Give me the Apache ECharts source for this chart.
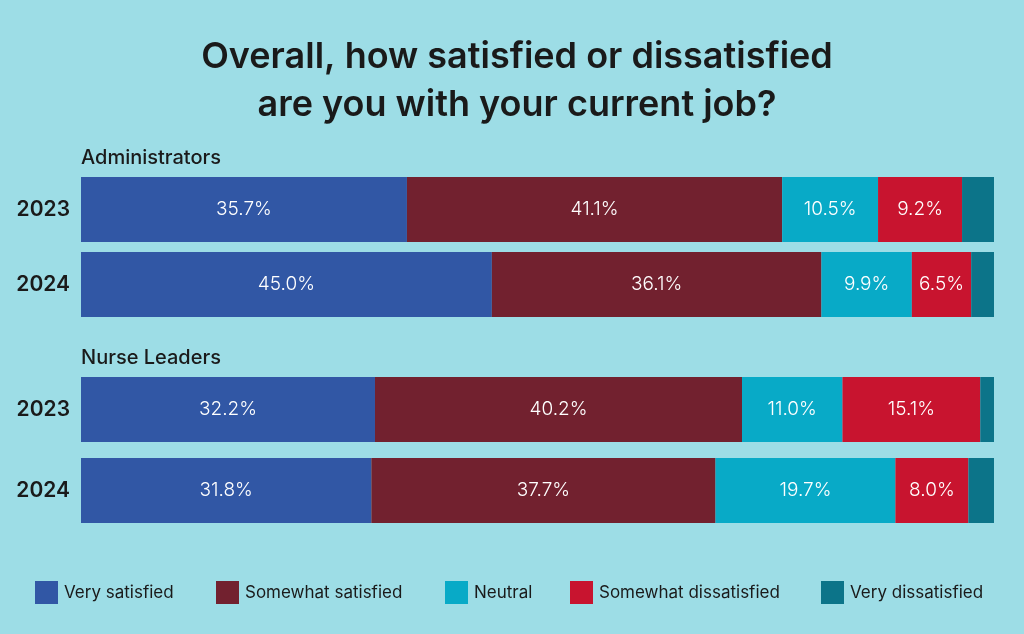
<!DOCTYPE html>
<html><head><meta charset="utf-8">
<script src="https://cdn.jsdelivr.net/npm/echarts@6/dist/echarts.min.js"></script>
<style>html,body{margin:0;padding:0;background:#9ddde6;}#c{width:1024px;height:634px;}</style>
</head><body><div id="c"></div>
<script>
const years = ['2023', '2024'];
const groups = ['Administrators', 'Nurse Leaders'];
const seriesNames = ['Very satisfied', 'Somewhat satisfied', 'Neutral', 'Somewhat dissatisfied', 'Very dissatisfied'];
const colors = ['#3157a5', '#72212f', '#08aac7', '#c8142f', '#0c7489'];
// Administrators [2023, 2024]
const adminVerySatisfied = [35.7, 45.0];
const adminSomewhatSatisfied = [41.1, 36.1];
const adminNeutral = [10.5, 9.9];
const adminSomewhatDissatisfied = [9.2, 6.5];
const adminVeryDissatisfied = [3.5, 2.5];
// Nurse Leaders [2023, 2024]
const nurseVerySatisfied = [32.2, 31.8];
const nurseSomewhatSatisfied = [40.2, 37.7];
const nurseNeutral = [11.0, 19.7];
const nurseSomewhatDissatisfied = [15.1, 8.0];
const nurseVeryDissatisfied = [1.5, 2.8];

const groupData = [
  [adminVerySatisfied, adminSomewhatSatisfied, adminNeutral, adminSomewhatDissatisfied, adminVeryDissatisfied],
  [nurseVerySatisfied, nurseSomewhatSatisfied, nurseNeutral, nurseSomewhatDissatisfied, nurseVeryDissatisfied]
];

const FONT = 'Inter, "Noto Sans", sans-serif';
const chart = echarts.init(document.getElementById('c'));

const grids = [
  {left: 81, right: 30, top: 172, height: 150},
  {left: 81, right: 30, top: 369, height: 162}
];
const xAxes = grids.map((g, i) => ({gridIndex: i, type: 'value', min: 0, max: 100, show: false}));
const yAxes = grids.map((g, i) => ({
  gridIndex: i, type: 'category', data: years, inverse: true,
  axisLine: {show: false}, axisTick: {show: false},
  axisLabel: {color: '#1a1a1a', fontSize: 21, fontWeight: 600, fontFamily: FONT, margin: 11}
}));

const series = [];
groupData.forEach((arrs, gi) => {
  arrs.forEach((vals, si) => {
    series.push({
      name: seriesNames[si], type: 'bar', stack: 'g' + gi,
      xAxisIndex: gi, yAxisIndex: gi, barWidth: 65,
      itemStyle: {color: colors[si]},
      label: {
        show: si < 4, position: 'inside', color: '#ffffff',
        fontSize: 19, fontWeight: 300, fontFamily: FONT,
        formatter: p => p.value.toFixed(1) + '%'
      },
      emphasis: {disabled: true},
      data: vals
    });
  });
});

const legendLefts = [35, 216, 445, 570, 821];
const legends = seriesNames.map((n, i) => ({
  data: [n], left: legendLefts[i], top: 581, padding: 0, itemWidth: 23, itemHeight: 23,
  itemGap: 8, icon: 'rect', selectedMode: false,
  textStyle: {color: '#1a1a1a', fontSize: 17, fontFamily: FONT, padding: [0, 0, 0, 1]}
}));

chart.setOption({
  backgroundColor: '#9ddde6',
  animation: false,
  title: {
    text: 'Overall, how satisfied or dissatisfied\nare you with your current job?',
    left: 512, top: 28, textAlign: 'center',
    textStyle: {color: '#1a1a1a', fontSize: 36, fontWeight: 600, fontFamily: FONT, lineHeight: 48}
  },
  graphic: [
    {type: 'text', left: 81, top: 148, style: {text: groups[0], fill: '#1a1a1a', font: '500 20px ' + FONT}},
    {type: 'text', left: 81, top: 348, style: {text: groups[1], fill: '#1a1a1a', font: '500 20px ' + FONT}}
  ],
  legend: legends,
  grid: grids,
  xAxis: xAxes,
  yAxis: yAxes,
  series: series
});
</script></body></html>
